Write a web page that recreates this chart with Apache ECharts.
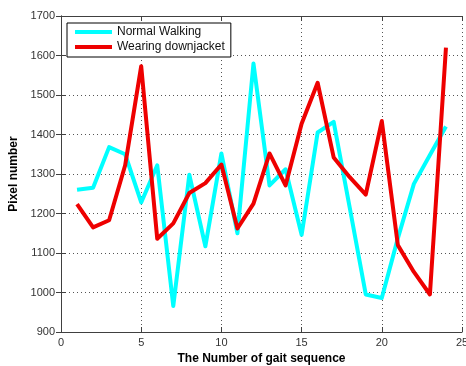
<!DOCTYPE html>
<html>
<head>
<meta charset="utf-8">
<script src="https://cdn.jsdelivr.net/npm/echarts@6/dist/echarts.min.js"></script>
<style>
html,body{margin:0;padding:0;background:#fff;}
#chart{width:466px;height:366px;}
</style>
</head>
<body>
<div id="chart"></div>
<script>
const sequence = [1,2,3,4,5,6,7,8,9,10,11,12,13,14,15,16,17,18,19,20,21,22,23,24];
const normalWalking = [1260,1265,1368,1350,1228,1322,966,1298,1117,1352,1150,1580,1271,1312,1146,1405,1432,1215,995,986,1137,1275,1348,1420];
const wearingDownjacket = [1224,1165,1183,1322,1573,1136,1175,1252,1277,1324,1162,1225,1352,1271,1427,1531,1342,1292,1248,1434,1120,1052,995,1620];
const seriesNames = ['Normal Walking','Wearing downjacket'];
const xTitle = 'The Number of gait sequence';
const yTitle = 'Pixel number';

const chart = echarts.init(document.getElementById('chart'), null, {renderer:'canvas'});
const axisColor = '#404040';
const font = 'Liberation Sans, Arial, sans-serif';
function pairs(vals){ return sequence.map((x,i)=>[x, vals[i]]); }

chart.setOption({
  backgroundColor:'#fff',
  animation:false,
  grid:{left:61, right:4, top:16, bottom:34, containLabel:false, outerBoundsMode:'none'},
  legend:{
    left:67, top:23, orient:'vertical',
    padding:[3,6,4,8], itemGap:3,
    itemWidth:37, itemHeight:4, icon:'rect',
    borderColor:'#000', borderWidth:1, backgroundColor:'#fff',
    textStyle:{fontFamily:font, fontSize:12, color:'#111'},
    data:seriesNames
  },
  xAxis:[{
    type:'value', min:0, max:25, interval:5,
    name:xTitle, nameLocation:'middle', nameGap:20,
    nameTextStyle:{fontFamily:font, fontSize:12, fontWeight:'bold', color:'#000'},
    axisLine:{show:true, lineStyle:{color:axisColor, width:1}},
    axisTick:{show:true, inside:true, length:5, lineStyle:{color:axisColor}},
    axisLabel:{fontFamily:font, fontSize:11, color:'#333', margin:5},
    splitLine:{show:true, lineStyle:{color:'#555', type:[1,3], width:1}}
  },{
    type:'value', min:0, max:25, interval:5, position:'top',
    axisLine:{show:true, lineStyle:{color:axisColor, width:1}},
    axisTick:{show:true, inside:true, length:5, lineStyle:{color:axisColor}},
    axisLabel:{show:false}, splitLine:{show:false}
  }],
  yAxis:[{
    type:'value', min:900, max:1700, interval:100,
    name:yTitle, nameLocation:'middle', nameGap:30, nameRotate:90,
    nameTextStyle:{fontFamily:font, fontSize:12, fontWeight:'bold', color:'#000'},
    axisLine:{show:true, lineStyle:{color:axisColor, width:1}},
    axisTick:{show:true, inside:true, length:5, lineStyle:{color:axisColor}},
    axisLabel:{fontFamily:font, fontSize:11, color:'#333', margin:6, formatter:v=>String(v)},
    splitLine:{show:true, lineStyle:{color:'#555', type:[1,3], width:1}}
  },{
    type:'value', min:900, max:1700, interval:100, position:'right',
    axisLine:{show:true, lineStyle:{color:axisColor, width:1}},
    axisTick:{show:true, inside:true, length:5, lineStyle:{color:axisColor}},
    axisLabel:{show:false}, splitLine:{show:false}
  }],
  series:[{
    name:seriesNames[0], type:'line', data:pairs(normalWalking),
    symbol:'none', color:'#00ffff',
    lineStyle:{width:4, color:'#00ffff', join:'round'}
  },{
    name:seriesNames[1], type:'line', data:pairs(wearingDownjacket),
    symbol:'none', color:'#ee0000',
    lineStyle:{width:4, color:'#ee0000', join:'round'}
  }]
});
</script>
</body>
</html>
